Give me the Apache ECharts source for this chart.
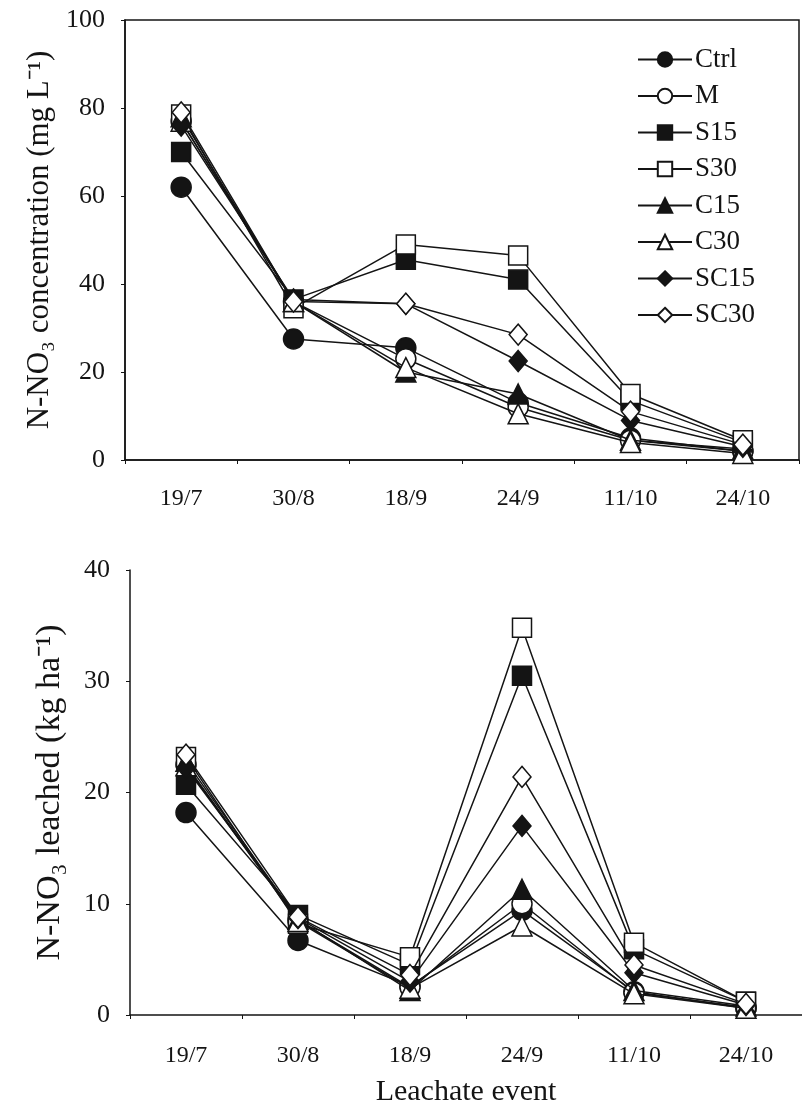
<!DOCTYPE html>
<html>
<head>
<meta charset="utf-8">
<script src="https://cdn.jsdelivr.net/npm/echarts@6/dist/echarts.min.js"></script>
<style>
html,body{margin:0;padding:0;background:#fff;}
#c{width:802px;height:1109px;}
</style>
</head>
<body>
<div id="c"></div>
<script>
const categories = ['19/7', '30/8', '18/9', '24/9', '11/10', '24/10'];
const seriesNames = ['Ctrl', 'M', 'S15', 'S30', 'C15', 'C30', 'SC15', 'SC30'];

// N-NO3 concentration (mg L-1)
const concCtrl = [62, 27.5, 25.5, 13, 5, 2];
const concM    = [77, 36, 23, 12, 4.5, 2];
const concS15  = [70, 36.5, 45.5, 41, 13.5, 4];
const concS30  = [78.5, 34.5, 49, 46.5, 15, 4.5];
const concC15  = [78, 36, 20, 15, 4.5, 2.5];
const concC30  = [77, 36, 21, 10.5, 4, 1.5];
const concSC15 = [76, 36.5, 35.5, 22.5, 9, 3];
const concSC30 = [79, 36, 35.5, 28.5, 11, 3.5];

// N-NO3 leached (kg ha-1)
const leachCtrl = [18.2, 6.7, 2.6, 9.4, 2.1, 0.6];
const leachM    = [22.5, 8.5, 2.5, 10, 2.0, 0.7];
const leachS15  = [20.7, 9.0, 4.5, 30.5, 5.9, 1.2];
const leachS30  = [23.2, 8.2, 5.2, 34.8, 6.5, 1.2];
const leachC15  = [22.8, 8.6, 2.2, 11.3, 2.2, 0.8];
const leachC30  = [22.4, 8.4, 2.4, 8.0, 1.9, 0.6];
const leachSC15 = [22.2, 8.7, 3.0, 17.0, 3.8, 0.9];
const leachSC30 = [23.4, 8.8, 3.6, 21.4, 4.5, 1.0];

const concTicks = [0, 20, 40, 60, 80, 100];
const leachTicks = [0, 10, 20, 30, 40];

const concData = [concCtrl, concM, concS15, concS30, concC15, concC30, concSC15, concSC30];
const leachData = [leachCtrl, leachM, leachS15, leachS30, leachC15, leachC30, leachSC15, leachSC30];

const INK = '#141414';
const FONT = '"Liberation Serif", "Times New Roman", serif';
const symbols = [
  {symbol: 'circle', size: 20, filled: true},
  {symbol: 'circle', size: 20, filled: false},
  {symbol: 'rect', size: 19, filled: true},
  {symbol: 'rect', size: 19, filled: false},
  {symbol: 'triangle', size: 20, filled: true},
  {symbol: 'triangle', size: 20, filled: false},
  {symbol: 'diamond', size: [18, 21], filled: true},
  {symbol: 'diamond', size: [18, 21], filled: false}
];

function mkSeries(dataSets, axisIndex) {
  return seriesNames.map((name, i) => ({
    name: name,
    type: 'line',
    xAxisIndex: axisIndex,
    yAxisIndex: axisIndex,
    data: dataSets[i],
    symbol: symbols[i].symbol,
    symbolSize: symbols[i].size,
    showAllSymbol: true,
    lineStyle: {color: INK, width: 1.5},
    itemStyle: {
      color: symbols[i].filled ? INK : '#ffffff',
      borderColor: INK,
      borderWidth: 1.5,
      opacity: 1
    },
    emphasis: {disabled: true},
    animation: false,
    z: 2 + i
  }));
}

function xAxisCfg(gridIndex, withName, margin) {
  const a = {
    type: 'category',
    gridIndex: gridIndex,
    data: categories,
    boundaryGap: true,
    axisLine: {show: true, lineStyle: {color: INK, width: 1.5}},
    axisTick: {show: true, length: 4, inside: false, lineStyle: {color: INK, width: 1}},
    axisLabel: {color: INK, fontFamily: FONT, fontSize: 24, margin: margin},
    splitLine: {show: false}
  };
  if (withName) {
    a.name = 'Leachate event';
    a.nameLocation = 'middle';
    a.nameGap = 62;
    a.nameTextStyle = {color: INK, fontFamily: FONT, fontSize: 30};
  }
  return a;
}

function yAxisCfg(gridIndex, max, interval, name, gap, nameSize) {
  return {
    type: 'value',
    gridIndex: gridIndex,
    min: 0,
    max: max,
    interval: interval,
    name: name,
    nameLocation: 'middle',
    nameRotate: 90,
    nameGap: gap,
    nameTextStyle: {color: INK, fontFamily: FONT, fontSize: nameSize},
    axisLine: {show: true, lineStyle: {color: INK, width: 1.5}},
    axisTick: {show: true, length: 4, inside: false, lineStyle: {color: INK, width: 1}},
    axisLabel: {color: INK, fontFamily: FONT, fontSize: 26, margin: 20},
    splitLine: {show: false}
  };
}

const chart = echarts.init(document.getElementById('c'), null, {renderer: 'canvas'});
chart.setOption({
  backgroundColor: '#ffffff',
  animation: false,
  grid: [
    {left: 125, top: 20, width: 674, height: 440, show: true, borderColor: INK, borderWidth: 1.5, backgroundColor: 'transparent'},
    {left: 130, top: 570, width: 684, height: 445}
  ],
  xAxis: [xAxisCfg(0, false, 27), xAxisCfg(1, true, 29)],
  yAxis: [
    yAxisCfg(0, concTicks[concTicks.length - 1], concTicks[1] - concTicks[0], 'N-NO\u2083 concentration (mg L\u207B\u00B9)', 66, 31),
    yAxisCfg(1, leachTicks[leachTicks.length - 1], leachTicks[1] - leachTicks[0], 'N-NO\u2083 leached (kg ha\u207B\u00B9)', 63, 34)
  ],
  legend: {
    data: seriesNames,
    orient: 'vertical',
    left: 637,
    top: 46,
    padding: 0,
    itemWidth: 54,
    itemHeight: 18,
    itemGap: 9.5,
    textStyle: {color: INK, fontFamily: FONT, fontSize: 27, padding: [0, 0, 0, -2]},
    selectedMode: false
  },
  series: mkSeries(concData, 0).concat(mkSeries(leachData, 1))
});
</script>
</body>
</html>
